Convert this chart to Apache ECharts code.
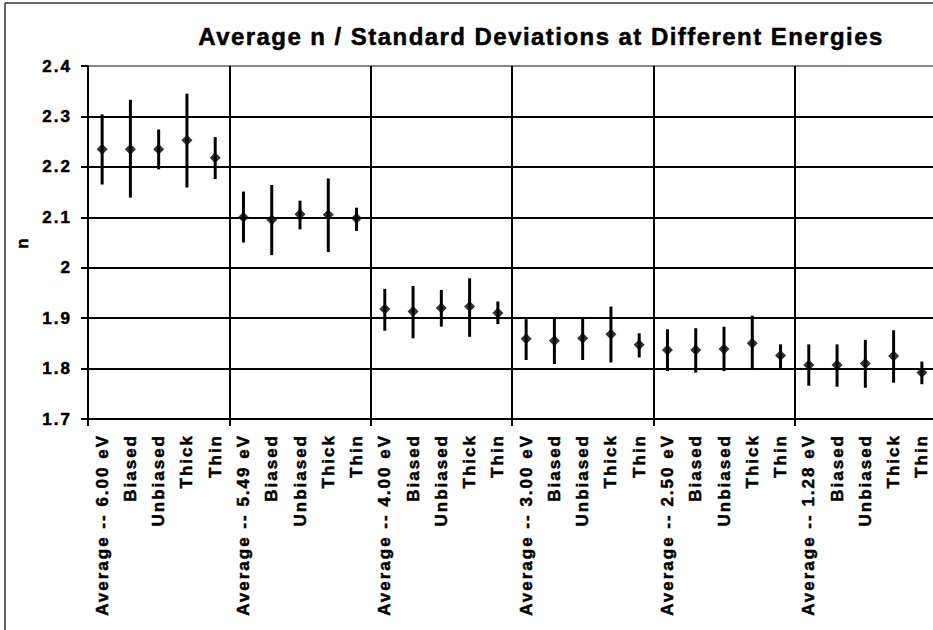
<!DOCTYPE html>
<html>
<head>
<meta charset="utf-8">
<script src="https://cdn.jsdelivr.net/npm/echarts@6/dist/echarts.min.js"></script>
<style>
  html, body { margin: 0; padding: 0; background: #fff; overflow: hidden; }
  #chart { position: absolute; left: 0; top: 0; width: 945px; height: 630px; }
  #chart text { letter-spacing: 2px; }
  #chart text[style*="24px"] { letter-spacing: 1.45px; }
</style>
</head>
<body>
<div id="chart"></div>
<script>
// ---- data ----
const categories = [
  "Average -- 6.00 eV", "Biased", "Unbiased", "Thick", "Thin",
  "Average -- 5.49 eV", "Biased", "Unbiased", "Thick", "Thin",
  "Average -- 4.00 eV", "Biased", "Unbiased", "Thick", "Thin",
  "Average -- 3.00 eV", "Biased", "Unbiased", "Thick", "Thin",
  "Average -- 2.50 eV", "Biased", "Unbiased", "Thick", "Thin",
  "Average -- 1.28 eV", "Biased", "Unbiased", "Thick", "Thin"
];
const means = [
  2.235, 2.235, 2.235, 2.253, 2.218,
  2.100, 2.095, 2.106, 2.105, 2.098,
  1.918, 1.913, 1.920, 1.923, 1.910,
  1.859, 1.855, 1.860, 1.868, 1.847,
  1.837, 1.837, 1.839, 1.850, 1.826,
  1.807, 1.807, 1.810, 1.825, 1.792
];
const lows = [
  2.165, 2.139, 2.195, 2.159, 2.176,
  2.050, 2.025, 2.076, 2.031, 2.073,
  1.875, 1.860, 1.883, 1.863, 1.888,
  1.817, 1.809, 1.817, 1.812, 1.822,
  1.795, 1.792, 1.795, 1.797, 1.801,
  1.766, 1.764, 1.762, 1.772, 1.769
];
const highs = [
  2.304, 2.333, 2.274, 2.345, 2.259,
  2.151, 2.164, 2.133, 2.177, 2.119,
  1.958, 1.964, 1.956, 1.979, 1.933,
  1.898, 1.900, 1.900, 1.923, 1.870,
  1.878, 1.880, 1.883, 1.905, 1.848,
  1.848, 1.848, 1.857, 1.876, 1.814
];
const yTicks = ["1.7", "1.8", "1.9", "2", "2.1", "2.2", "2.3", "2.4"];
const titleText = "Average n / Standard Deviations at Different Energies";
const yName = "n";
const groupSize = 5;

// ---- chart ----
const chart = echarts.init(document.getElementById('chart'), null, { renderer: 'svg' });
const font = '"Liberation Sans", Arial, Helvetica, sans-serif';
const heavy = { textBorderColor: '#000', textBorderWidth: 0.5 };

const pointData = means.map((v, i) => [i, v]);
const errData = lows.map((lo, i) => [i, lo, highs[i]]);

chart.setOption({
  animation: false,
  backgroundColor: '#fff',
  title: {
    text: titleText,
    left: 541,
    top: 24,
    padding: 0,
    textAlign: 'center',
    textStyle: Object.assign({ fontFamily: font, fontWeight: 'bold', fontSize: 24, color: '#000' }, heavy)
  },
  graphic: [
    { type: 'line', shape: { x1: 5, y1: 3, x2: 5, y2: 640 }, style: { stroke: '#333', lineWidth: 1.5 }, silent: true },
    { type: 'line', shape: { x1: 5, y1: 3, x2: 950, y2: 3 }, style: { stroke: '#333', lineWidth: 1.5 }, silent: true }
  ],
  grid: { left: 88, top: 66, width: 848, height: 353, containLabel: false },
  xAxis: {
    type: 'category',
    data: categories,
    boundaryGap: true,
    axisLine: { lineStyle: { color: '#000', width: 2 } },
    axisTick: {
      show: true, length: 7, inside: false,
      interval: (i) => i % groupSize === 0,
      lineStyle: { color: '#000', width: 2 }
    },
    splitLine: {
      show: true,
      interval: (i) => i % groupSize === 0,
      lineStyle: { color: '#000', width: 2 }
    },
    axisLabel: Object.assign({
      interval: 0, rotate: 90, margin: 15,
      fontFamily: font, fontWeight: 'bold', fontSize: 17, color: '#000'
    }, heavy)
  },
  yAxis: {
    type: 'value',
    min: 1.7, max: 2.4, interval: 0.1,
    name: yName,
    nameLocation: 'middle',
    nameRotate: 90,
    nameGap: 57,
    nameTextStyle: Object.assign({ fontFamily: font, fontWeight: 'bold', fontSize: 17, color: '#000' }, heavy),
    axisLine: { show: true, lineStyle: { color: '#000', width: 2 } },
    axisTick: { show: true, length: 7, lineStyle: { color: '#000', width: 2 } },
    splitLine: {
      show: true,
      lineStyle: { color: ['#000', '#000', '#000', '#000', '#000', '#000', '#000', '#888'], width: 2 }
    },
    axisLabel: Object.assign({
      margin: 16,
      fontFamily: font, fontWeight: 'bold', fontSize: 17, color: '#000',
      formatter: (v) => {
        const idx = Math.round((v - 1.7) / 0.1);
        return yTicks[idx] !== undefined ? yTicks[idx] : '';
      }
    }, heavy)
  },
  series: [
    {
      type: 'custom',
      name: 'err',
      data: errData,
      encode: { x: 0, y: [1, 2] },
      renderItem: (params, api) => {
        const x = api.value(0);
        const p1 = api.coord([x, api.value(1)]);
        const p2 = api.coord([x, api.value(2)]);
        return {
          type: 'line',
          shape: { x1: p1[0], y1: p1[1], x2: p2[0], y2: p2[1] },
          style: { stroke: '#000', lineWidth: 3 }
        };
      },
      z: 3
    },
    {
      type: 'scatter',
      name: 'n',
      data: pointData,
      symbol: 'diamond',
      symbolSize: [11, 11],
      itemStyle: { color: '#000' },
      z: 4
    }
  ]
});
</script>
</body>
</html>
